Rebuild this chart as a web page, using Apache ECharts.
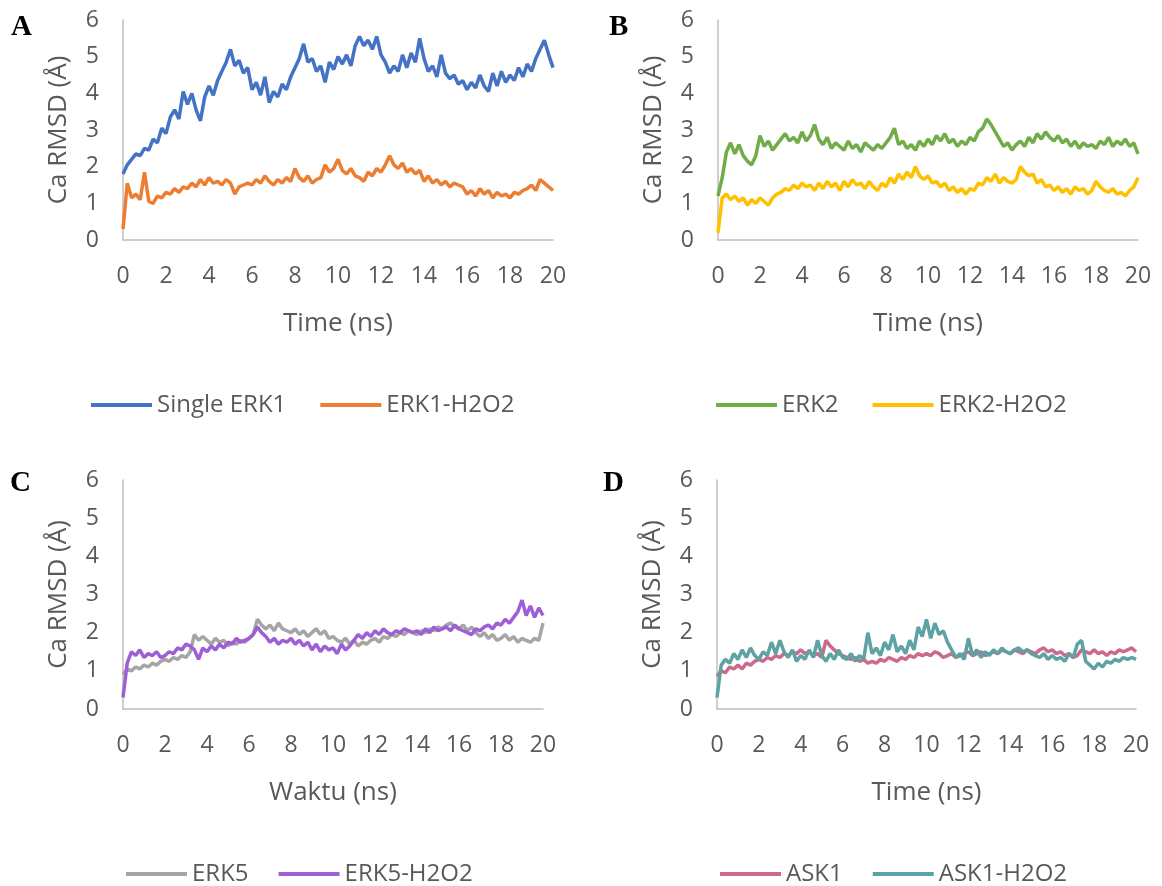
<!DOCTYPE html>
<html>
<head>
<meta charset="utf-8">
<title>Ca RMSD</title>
<script src="https://cdn.jsdelivr.net/npm/echarts@6/dist/echarts.min.js"></script>
<style>
  html, body { margin: 0; padding: 0; background: #fff; }
  #main { width: 1162px; height: 886px; }
</style>
</head>
<body>
<div id="main"></div>
<script>
// time axis (ns), one sample every 0.2 ns
var time = [
  0, 0.2, 0.4, 0.6, 0.8, 1, 1.2, 1.4, 1.6, 1.8,
  2, 2.2, 2.4, 2.6, 2.8, 3, 3.2, 3.4, 3.6, 3.8,
  4, 4.2, 4.4, 4.6, 4.8, 5, 5.2, 5.4, 5.6, 5.8,
  6, 6.2, 6.4, 6.6, 6.8, 7, 7.2, 7.4, 7.6, 7.8,
  8, 8.2, 8.4, 8.6, 8.8, 9, 9.2, 9.4, 9.6, 9.8,
  10, 10.2, 10.4, 10.6, 10.8, 11, 11.2, 11.4, 11.6, 11.8,
  12, 12.2, 12.4, 12.6, 12.8, 13, 13.2, 13.4, 13.6, 13.8,
  14, 14.2, 14.4, 14.6, 14.8, 15, 15.2, 15.4, 15.6, 15.8,
  16, 16.2, 16.4, 16.6, 16.8, 17, 17.2, 17.4, 17.6, 17.8,
  18, 18.2, 18.4, 18.6, 18.8, 19, 19.2, 19.4, 19.6, 19.8, 20
];
var xTicks = [0, 2, 4, 6, 8, 10, 12, 14, 16, 18, 20];
var yTicks = [0, 1, 2, 3, 4, 5, 6];

// A
var singleErk1 = [
  1.80, 2.05, 2.20, 2.35, 2.30, 2.50, 2.45, 2.75, 2.65, 3.05,
  2.90, 3.35, 3.55, 3.30, 4.05, 3.70, 4.00, 3.55, 3.25, 3.90,
  4.20, 3.95, 4.35, 4.60, 4.85, 5.20, 4.75, 4.90, 4.55, 4.70,
  4.10, 4.30, 3.95, 4.45, 3.75, 4.05, 3.90, 4.25, 4.10, 4.45,
  4.70, 4.95, 5.35, 4.85, 4.95, 4.60, 4.75, 4.30, 4.85, 4.65,
  5.00, 4.80, 5.05, 4.75, 5.30, 5.55, 5.30, 5.45, 5.20, 5.55,
  5.05, 4.85, 4.55, 4.75, 4.60, 5.05, 4.70, 5.10, 4.85, 5.50,
  4.95, 4.60, 4.75, 4.45, 5.05, 4.55, 4.40, 4.50, 4.25, 4.35,
  4.10, 4.30, 4.15, 4.50, 4.20, 4.05, 4.55, 4.20, 4.60, 4.30,
  4.50, 4.35, 4.70, 4.45, 4.80, 4.60, 4.95, 5.20, 5.45, 5.05, 4.70
];
var erk1H2o2 = [
  0.30, 1.55, 1.15, 1.25, 1.10, 1.85, 1.05, 1.00, 1.20, 1.15,
  1.30, 1.25, 1.40, 1.30, 1.45, 1.40, 1.55, 1.45, 1.65, 1.50,
  1.70, 1.55, 1.60, 1.50, 1.65, 1.55, 1.25, 1.45, 1.50, 1.55,
  1.50, 1.65, 1.55, 1.75, 1.60, 1.50, 1.65, 1.55, 1.70, 1.60,
  1.95, 1.70, 1.60, 1.75, 1.55, 1.65, 1.70, 2.05, 1.85, 1.95,
  2.20, 1.90, 1.80, 1.95, 1.75, 1.70, 1.60, 1.85, 1.75, 1.95,
  1.85, 2.05, 2.30, 2.05, 1.95, 2.10, 1.85, 1.95, 1.80, 1.90,
  1.60, 1.75, 1.55, 1.65, 1.50, 1.60, 1.45, 1.55, 1.50, 1.45,
  1.25, 1.35, 1.20, 1.40, 1.25, 1.35, 1.15, 1.30, 1.20, 1.25,
  1.15, 1.30, 1.25, 1.35, 1.40, 1.50, 1.35, 1.65, 1.55, 1.45, 1.35
];

// B
var erk2 = [
  1.20, 1.70, 2.40, 2.65, 2.35, 2.60, 2.30, 2.15, 2.05, 2.30,
  2.85, 2.55, 2.70, 2.45, 2.60, 2.75, 2.90, 2.70, 2.80, 2.65,
  2.95, 2.70, 2.85, 3.15, 2.75, 2.60, 2.80, 2.50, 2.65, 2.55,
  2.45, 2.70, 2.50, 2.60, 2.40, 2.65, 2.55, 2.45, 2.60, 2.50,
  2.65, 2.80, 3.05, 2.60, 2.70, 2.50, 2.60, 2.45, 2.70, 2.55,
  2.75, 2.60, 2.85, 2.70, 2.90, 2.65, 2.75, 2.55, 2.70, 2.60,
  2.80, 2.70, 2.95, 3.05, 3.30, 3.15, 2.95, 2.75, 2.55, 2.65,
  2.45, 2.60, 2.70, 2.55, 2.80, 2.65, 2.90, 2.75, 2.95, 2.80,
  2.70, 2.85, 2.65, 2.75, 2.55, 2.70, 2.50, 2.65, 2.55, 2.60,
  2.50, 2.70, 2.60, 2.80, 2.55, 2.70, 2.60, 2.75, 2.55, 2.65, 2.35
];
var erk2H2o2 = [
  0.20, 1.15, 1.25, 1.10, 1.20, 1.05, 1.15, 0.95, 1.10, 1.00,
  1.15, 1.05, 0.95, 1.15, 1.25, 1.30, 1.40, 1.35, 1.50, 1.40,
  1.55, 1.45, 1.50, 1.35, 1.55, 1.40, 1.60, 1.45, 1.55, 1.35,
  1.60, 1.45, 1.65, 1.50, 1.55, 1.40, 1.60, 1.45, 1.35, 1.55,
  1.45, 1.70, 1.55, 1.80, 1.65, 1.85, 1.70, 2.00, 1.75, 1.65,
  1.75, 1.55, 1.60, 1.45, 1.55, 1.35, 1.45, 1.30, 1.40, 1.25,
  1.40, 1.35, 1.55, 1.50, 1.70, 1.60, 1.80, 1.55, 1.70, 1.60,
  1.55, 1.65, 2.00, 1.85, 1.75, 1.80, 1.55, 1.65, 1.45, 1.50,
  1.35, 1.45, 1.30, 1.40, 1.25, 1.45, 1.35, 1.40, 1.25, 1.35,
  1.60, 1.45, 1.35, 1.30, 1.40, 1.25, 1.30, 1.20, 1.35, 1.45, 1.70
];

// C
var erk5 = [
  0.90, 1.05, 1.00, 1.10, 1.05, 1.15, 1.10, 1.20, 1.15, 1.25,
  1.30, 1.25, 1.35, 1.30, 1.40, 1.35, 1.50, 1.95, 1.80, 1.90,
  1.80, 1.70, 1.85, 1.75, 1.80, 1.65, 1.75, 1.70, 1.80, 1.75,
  1.85, 1.95, 2.35, 2.20, 2.10, 2.20, 2.05, 2.25, 2.10, 2.05,
  2.00, 2.10, 1.95, 2.05, 1.90, 2.00, 2.10, 1.95, 2.05, 1.85,
  1.90, 1.80, 1.75, 1.85, 1.70, 1.80, 1.65, 1.75, 1.70, 1.80,
  1.85, 1.75, 1.90, 1.85, 1.95, 1.90, 2.00, 1.95, 2.05, 2.00,
  1.95, 2.05, 2.00, 2.10, 2.05, 2.15, 2.10, 2.20, 2.25, 2.15,
  2.10, 2.20, 2.05, 2.15, 2.00, 1.90, 2.00, 1.85, 1.95, 1.80,
  1.85, 1.95, 1.80, 1.90, 1.75, 1.85, 1.80, 1.75, 1.85, 1.80, 2.25
];
var erk5H2o2 = [
  0.30, 1.20, 1.50, 1.40, 1.55, 1.35, 1.45, 1.40, 1.50, 1.35,
  1.40, 1.50, 1.45, 1.60, 1.55, 1.70, 1.65, 1.55, 1.30, 1.60,
  1.50, 1.65, 1.55, 1.70, 1.60, 1.75, 1.70, 1.85, 1.75, 1.80,
  1.85, 1.95, 2.15, 2.00, 1.90, 1.75, 1.85, 1.70, 1.80, 1.75,
  1.85, 1.70, 1.80, 1.65, 1.75, 1.55, 1.70, 1.50, 1.65, 1.55,
  1.60, 1.45, 1.70, 1.55, 1.65, 1.80, 1.95, 1.85, 2.00, 1.90,
  2.05, 1.95, 2.10, 2.00, 1.95, 2.05, 2.00, 2.10, 2.05, 2.00,
  2.05, 1.95, 2.10, 2.00, 2.15, 2.05, 2.10, 2.15, 2.05, 2.20,
  2.10, 2.05, 2.00, 1.95, 2.10, 2.05, 2.15, 2.20, 2.10, 2.25,
  2.20, 2.35, 2.25, 2.40, 2.55, 2.85, 2.45, 2.70, 2.40, 2.65, 2.45
];

// D
var ask1 = [
  0.85, 1.00, 0.95, 1.10, 1.05, 1.15, 1.05, 1.20, 1.15, 1.25,
  1.30, 1.25, 1.35, 1.30, 1.40, 1.35, 1.45, 1.40, 1.50, 1.45,
  1.55, 1.45, 1.50, 1.40, 1.45, 1.35, 1.80, 1.65, 1.55, 1.45,
  1.40, 1.35, 1.30, 1.35, 1.25, 1.30, 1.20, 1.25, 1.20, 1.30,
  1.25, 1.35, 1.30, 1.25, 1.35, 1.30, 1.40, 1.35, 1.45, 1.40,
  1.45, 1.40, 1.50, 1.45, 1.35, 1.40, 1.45, 1.35, 1.40, 1.45,
  1.50, 1.40, 1.45, 1.50, 1.40, 1.45, 1.50, 1.45, 1.55, 1.50,
  1.45, 1.55, 1.50, 1.45, 1.55, 1.50, 1.45, 1.55, 1.60, 1.50,
  1.55, 1.45, 1.50, 1.40, 1.45, 1.35, 1.40, 1.55, 1.50, 1.45,
  1.55, 1.45, 1.50, 1.40, 1.50, 1.45, 1.55, 1.50, 1.55, 1.60, 1.50
];
var ask1H2o2 = [
  0.30, 1.15, 1.30, 1.20, 1.45, 1.30, 1.55, 1.35, 1.60, 1.40,
  1.30, 1.50, 1.40, 1.75, 1.45, 1.80, 1.50, 1.35, 1.55, 1.25,
  1.40, 1.30, 1.55, 1.35, 1.80, 1.40, 1.25, 1.45, 1.30, 1.55,
  1.35, 1.30, 1.45, 1.25, 1.40, 1.30, 2.00, 1.45, 1.60, 1.40,
  1.75, 1.55, 1.95, 1.50, 1.65, 1.45, 1.80, 1.55, 2.15, 1.90,
  2.35, 1.85, 2.25, 1.95, 2.05, 1.75, 1.55, 1.35, 1.45, 1.30,
  1.85, 1.40, 1.55, 1.35, 1.50, 1.40, 1.55, 1.45, 1.60, 1.50,
  1.45, 1.55, 1.60, 1.50, 1.55, 1.45, 1.40, 1.35, 1.45, 1.30,
  1.40, 1.30, 1.35, 1.25, 1.45, 1.35, 1.70, 1.80, 1.25, 1.15,
  1.05, 1.20, 1.10, 1.25, 1.20, 1.30, 1.25, 1.35, 1.30, 1.35, 1.30
];

var FONT = '"Open Sans"';
var TXT = '#595959';
var AXIS = '#BFBFBF';

function pairs(vals) {
  var out = [];
  for (var i = 0; i < vals.length; i++) out.push([time[i], vals[i]]);
  return out;
}

function xAx(idx, title) {
  return {
    gridIndex: idx, type: 'value',
    min: xTicks[0], max: xTicks[xTicks.length - 1], interval: 2,
    axisLine: { show: true, lineStyle: { color: AXIS, width: 1.5 } },
    axisTick: { show: false },
    splitLine: { show: false },
    axisLabel: { fontFamily: FONT, fontSize: 23, color: TXT, margin: 25 },
    name: title, nameLocation: 'middle', nameGap: 71,
    nameTextStyle: { fontFamily: FONT, fontSize: 26, color: TXT }
  };
}

function yAx(idx) {
  return {
    gridIndex: idx, type: 'value',
    min: yTicks[0], max: yTicks[yTicks.length - 1], interval: 1,
    axisLine: { show: true, lineStyle: { color: AXIS, width: 1.5 } },
    axisTick: { show: false },
    splitLine: { show: false },
    axisLabel: { fontFamily: FONT, fontSize: 23, color: TXT, margin: 24 },
    name: 'Ca RMSD (Å)', nameLocation: 'middle', nameGap: 51,
    nameTextStyle: { fontFamily: FONT, fontSize: 26, color: TXT }
  };
}

function line(name, idx, vals, color) {
  return {
    name: name, type: 'line',
    xAxisIndex: idx, yAxisIndex: idx,
    data: pairs(vals),
    showSymbol: false, symbol: 'none',
    lineStyle: { color: color, width: 3.5 },
    itemStyle: { color: color },
    animation: false
  };
}

function leg(names, left, top, gap) {
  return {
    data: names, left: left, top: top,
    icon: 'rect', itemWidth: 61, itemHeight: 4, itemGap: gap,
    textStyle: { fontFamily: FONT, fontSize: 24, color: TXT }
  };
}

function letter(txt, x, y) {
  return {
    type: 'text', left: x, top: y,
    style: { text: txt, font: 'bold 29px "Liberation Serif"', fill: '#000' }
  };
}

var chart = echarts.init(document.getElementById('main'));

var option = {
  backgroundColor: '#fff',
  animation: false,
  grid: [
    { left: 123, top: 20, width: 430, height: 220 },
    { left: 718, top: 20, width: 420, height: 220 },
    { left: 123, top: 480, width: 420, height: 229 },
    { left: 717, top: 480, width: 419, height: 229 }
  ],
  xAxis: [xAx(0, 'Time (ns)'), xAx(1, 'Time (ns)'), xAx(2, 'Waktu (ns)'), xAx(3, 'Time (ns)')],
  yAxis: [yAx(0), yAx(1), yAx(2), yAx(3)],
  legend: [
    leg(['Single ERK1', 'ERK1-H2O2'], 86, 388, 34),
    leg(['ERK2', 'ERK2-H2O2'], 711, 388, 34),
    leg(['ERK5', 'ERK5-H2O2'], 121, 857, 30),
    leg(['ASK1', 'ASK1-H2O2'], 715, 857, 30)
  ],
  graphic: [
    letter('A', 11, 13),
    letter('B', 609, 13),
    letter('C', 10, 469),
    letter('D', 603, 469)
  ],
  series: [
    line('Single ERK1', 0, singleErk1, '#4472C4'),
    line('ERK1-H2O2', 0, erk1H2o2, '#ED7D31'),
    line('ERK2', 1, erk2, '#70AD47'),
    line('ERK2-H2O2', 1, erk2H2o2, '#FFC000'),
    line('ERK5', 2, erk5, '#A5A5A5'),
    line('ERK5-H2O2', 2, erk5H2o2, '#9E5ED6'),
    line('ASK1', 3, ask1, '#CC6A8C'),
    line('ASK1-H2O2', 3, ask1H2o2, '#5DA3A3')
  ]
};

chart.setOption(option);
</script>
</body>
</html>
